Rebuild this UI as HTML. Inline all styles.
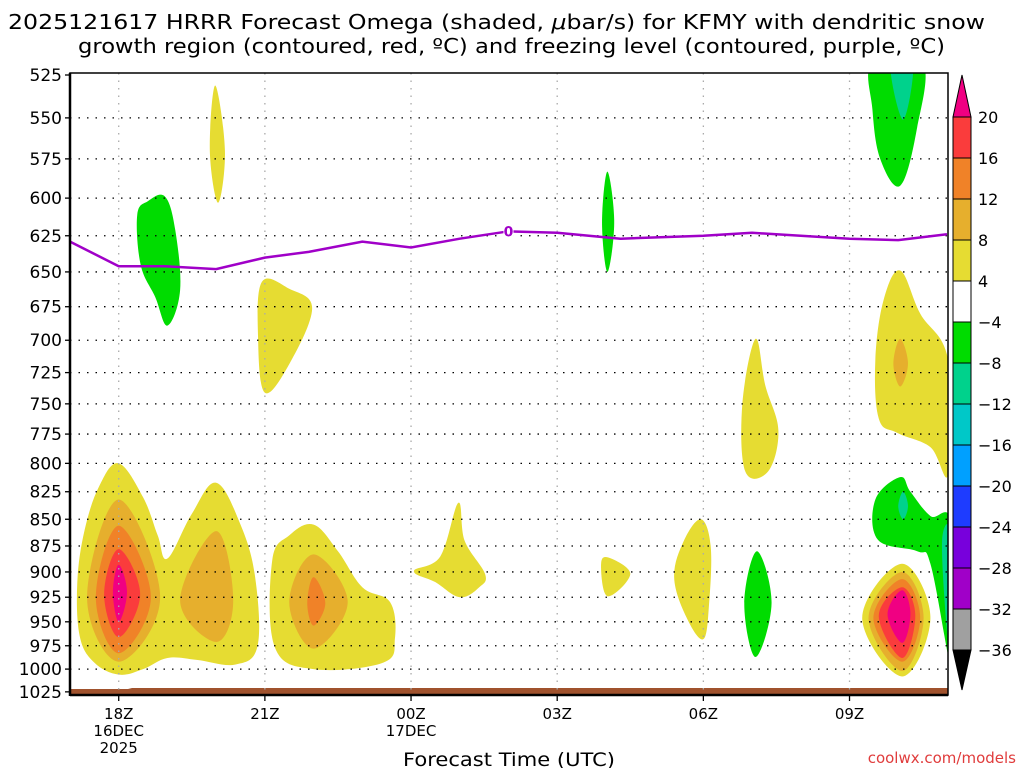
<!DOCTYPE html>
<html><head><meta charset="utf-8">
<style>
html,body{margin:0;padding:0;background:#fff;}
svg{display:block;font-family:"DejaVu Sans","Liberation Sans",sans-serif;}
</style></head>
<body>
<svg id="chart" width="1024" height="768" viewBox="0 0 1024 768">
<text x="8" y="29" font-size="20" textLength="977" lengthAdjust="spacingAndGlyphs">2025121617 HRRR Forecast Omega (shaded, <tspan font-style="italic">μ</tspan>bar/s) for KFMY with dendritic snow</text>
<text x="78" y="53" font-size="20" textLength="867" lengthAdjust="spacingAndGlyphs">growth region (contoured, red, ºC) and freezing level (contoured, purple, ºC)</text>
<g id="fills"></g>
<g id="grid"></g>
<g id="fz"></g>
<g id="axes"></g>
<g id="cbar"></g>
<text x="403" y="766" font-size="19" textLength="212" lengthAdjust="spacingAndGlyphs">Forecast Time (UTC)</text>
<text x="1016" y="763" font-size="15" fill="#e03c3c" text-anchor="end">coolwx.com/models</text>
</svg>
<script>
// ---- data ----
const pressureTicks=[525,550,575,600,625,650,675,700,725,750,775,800,825,850,875,900,925,950,975,1000,1025];
const hourTicks=[18,21,24,27,30,33];
const hourLabels=[["18Z","16DEC","2025"],["21Z"],["00Z","17DEC"],["03Z"],["06Z"],["09Z"]];
const cbarLabels=["20","16","12","8","4","−4","−8","−12","−16","−20","−24","−28","−32","−36"];
const cbarColors=["#fa3c3c","#f08228","#e6af2d","#e6dc32","#ffffff","#00dc00","#00d28c","#00c8c8","#00a0ff","#1e3cff","#7800dc","#a000c8","#a0a0a0"];
const freezeHours=[17,18,18.95,20,21,21.9,23,24,25,26,27,28.3,30,31,33,34,35];
const freezeP=[629,646,646,648,640,636,629,633,627,622,623,627,625,623,627,628,624];
const regions=[
 ["y",[[18,800],[18.5,830],[18.8,865],[19.0,887],[19.5,845],[20,817],[20.5,855],[20.8,905],[20.85,975],[20.4,995],[19.6,990],[19,988],[18.5,1000],[18,1006],[17.5,993],[17.2,965],[17.15,910],[17.3,860],[17.6,820]]],
 ["y",[[22.0,855],[22.5,880],[23.0,915],[23.57,930],[23.67,967],[23.43,993],[22.0,1000],[21.2,976],[21.15,889],[21.5,865]]],
 ["y",[[19.98,531],[20.18,570],[20.04,603],[19.87,570]]],
 ["y",[[20.94,657],[21.5,662],[21.97,676],[21.52,717],[21.0,741],[20.86,698]]],
 ["y",[[24.06,899],[24.6,885],[24.97,835],[25.1,870],[25.52,902],[25.4,915],[25.0,925],[24.5,910]]],
 ["y",[[27.9,893],[28.05,886],[28.5,902],[28.03,924]]],
 ["y",[[29.95,850],[30.15,875],[30.12,930],[30.0,968],[29.65,945],[29.4,905],[29.6,870]]],
 ["y",[[31.07,699],[31.27,735],[31.54,772],[31.33,807],[30.86,807],[30.8,750]]],
 ["y",[[34.04,649],[34.45,680],[35.03,716],[35.03,809],[34.66,786],[33.98,774],[33.6,762],[33.53,715],[33.7,670]]],
 ["g",[[18.95,599],[19.16,621],[19.26,663],[19.0,689],[18.75,668],[18.45,645],[18.38,611],[18.6,602]]],
 ["g",[[28.03,583],[28.17,616],[28.03,650],[27.92,616]]],
 ["g",[[31.1,880],[31.4,931],[31.07,987],[30.84,931]]],
 ["g",[[33.47,518],[34.5,518],[34.38,557],[34.04,592],[33.63,575],[33.47,545]]],
 ["t",[[33.84,518],[34.3,518],[34.1,551]]],
 ["g",[[34.04,812],[34.25,825],[34.66,847],[35.1,855],[35.1,990],[35.03,987],[34.66,892],[34.39,880],[33.58,869],[33.53,832]]],
 ["t",[[34.1,825],[34.2,838],[34.1,850],[34.0,838]]],
 ["t",[[34.9,870],[35.1,865],[35.1,980],[35.0,960]]],
 ["y",[[34.08,892],[34.66,946],[34.08,1008],[33.26,946]]]
];
// cores: [level, hourCenter, left, right, topP, bottomP, midP]
const cores=[
 ["o8",18.0,17.35,18.85,832,992,925],["o12",18.0,17.53,18.66,856,983,925],["o16",18.0,17.7,18.44,878,966,922],["o20",18.0,17.88,18.17,893,950,920],
 ["o8",20.0,19.26,20.35,861,971,928],
 ["o8",22.0,21.5,22.7,883,978,930],["o12",22.0,21.87,22.24,905,954,931],
 ["o8",34.08,33.39,34.52,900,1002,946],["o12",34.08,33.49,34.45,907,992,946],["o16",34.08,33.6,34.35,915,988,944],["o20",34.08,33.78,34.25,918,972,942],
 ["o8",34.04,33.9,34.2,699,736,718]
];
// ---- scales ----
const X=h=>70+(h-17)*48.72;
const Y=p=>75+922*Math.log(p/525);
const col={y:"#e6dc32",g:"#00dc00",t:"#00d28c",o8:"#e6af2d",o12:"#f08228",o16:"#fa3c3c",o20:"#f00082"};
const NS="http://www.w3.org/2000/svg";
function mk(tag,attrs,parent){const e=document.createElementNS(NS,tag);for(const k in attrs)e.setAttribute(k,attrs[k]);parent.appendChild(e);return e;}
function smooth(pts){const n=pts.length;let d=`M${pts[0][0]},${pts[0][1]}`;
 for(let i=0;i<n;i++){const p0=pts[(i-1+n)%n],p1=pts[i],p2=pts[(i+1)%n],p3=pts[(i+2)%n];const t=0.18;
  d+=`C${p1[0]+(p2[0]-p0[0])*t},${p1[1]+(p2[1]-p0[1])*t} ${p2[0]-(p3[0]-p1[0])*t},${p2[1]-(p3[1]-p1[1])*t} ${p2[0]},${p2[1]}`;}
 return d+"Z";}
const fills=document.getElementById("fills");
const clipEl=mk("clipPath",{id:"pc"},mk("defs",{},document.getElementById("chart")));
mk("rect",{x:70,y:73,width:878,height:622},clipEl);
fills.setAttribute("clip-path","url(#pc)");
regions.forEach((r)=>{const el=mk("path",{d:smooth(r[1].map(q=>[X(q[0]),Y(q[1])])),fill:col[r[0]]},fills);
 
 });
cores.forEach((c)=>{const [lv,hc,l,r,t,b,m]=c;const pts=[[X(hc),Y(t)],[X(r),Y(m)],[X(hc),Y(b)],[X(l),Y(m)]];
 const el=mk("path",{d:smooth(pts),fill:col[lv]},fills);
 
 });
const gr=mk("path",{d:`M70,689 L128,689 L132,688 L948,688 L948,695 L70,695Z`,fill:"#a0522d"},fills);


// grid
const grid=document.getElementById("grid");
pressureTicks.slice(1,-1).forEach(p=>{const l=mk("line",{x1:70,x2:948,y1:Y(p),y2:Y(p),stroke:"#000","stroke-width":1.3,"stroke-dasharray":"1.5,7"},grid);
 
 });
hourTicks.forEach(h=>{const l=mk("line",{x1:X(h),x2:X(h),y1:73,y2:695,stroke:"#aaa","stroke-width":1.3,"stroke-dasharray":"1.5,6"},grid);
 
 });
// freezing line
const fz=document.getElementById("fz");
const fl=mk("polyline",{points:freezeHours.map((h,i)=>X(h)+","+Y(freezeP[i])).join(" "),fill:"none",stroke:"#a000c8","stroke-width":2.5},fz);


mk("rect",{x:X(26)-5,y:Y(622)-8,width:10,height:15,fill:"#fff"},fz);
const fzl=mk("text",{x:X(26),y:Y(622)+5,"font-size":14,"font-weight":"bold",fill:"#a000c8","text-anchor":"middle"},fz);fzl.textContent="0";


// axes
const ax=document.getElementById("axes");
mk("rect",{x:70,y:73,width:878,height:622,fill:"none",stroke:"#000","stroke-width":1.5},ax);
mk("line",{x1:70,x2:70,y1:73,y2:696,stroke:"#000","stroke-width":2.5},ax);
mk("line",{x1:70,x2:948,y1:695,y2:695,stroke:"#000","stroke-width":2.5},ax);
pressureTicks.forEach(p=>{mk("line",{x1:65,x2:70,y1:Y(p),y2:Y(p),stroke:"#000","stroke-width":1.3},ax);
 const t=mk("text",{x:62,y:Y(p)+6,"font-size":17,"text-anchor":"end"},ax);t.textContent=p;
 
 });
hourTicks.forEach((h,i)=>{mk("line",{x1:X(h),x2:X(h),y1:695,y2:701,stroke:"#000","stroke-width":1.3},ax);
 hourLabels[i].forEach((s,j)=>{const t=mk("text",{x:X(h),y:719+j*17,"font-size":15,"text-anchor":"middle"},ax);t.textContent=s;
 
 });});
// colorbar
const cb=document.getElementById("cbar");
const cbX=953,cbW=18,cTop=117,cStep=41;
mk("polygon",{points:`${cbX},${cTop} ${cbX+cbW},${cTop} ${cbX+cbW/2},75`,fill:"#f00082",stroke:"#000","stroke-width":1},cb);
cbarColors.forEach((c,i)=>{const r=mk("rect",{x:cbX,y:cTop+i*cStep,width:cbW,height:cStep,fill:c,stroke:"#000","stroke-width":1},cb);
 
 });
const cBot=cTop+cbarColors.length*cStep;
mk("polygon",{points:`${cbX},${cBot} ${cbX+cbW},${cBot} ${cbX+cbW/2},690`,fill:"#000",stroke:"#000","stroke-width":1},cb);
cbarLabels.forEach((s,i)=>{const t=mk("text",{x:978,y:cTop+i*cStep+6,"font-size":16},cb);t.textContent=s;
 
 });
</script>
</body></html>
